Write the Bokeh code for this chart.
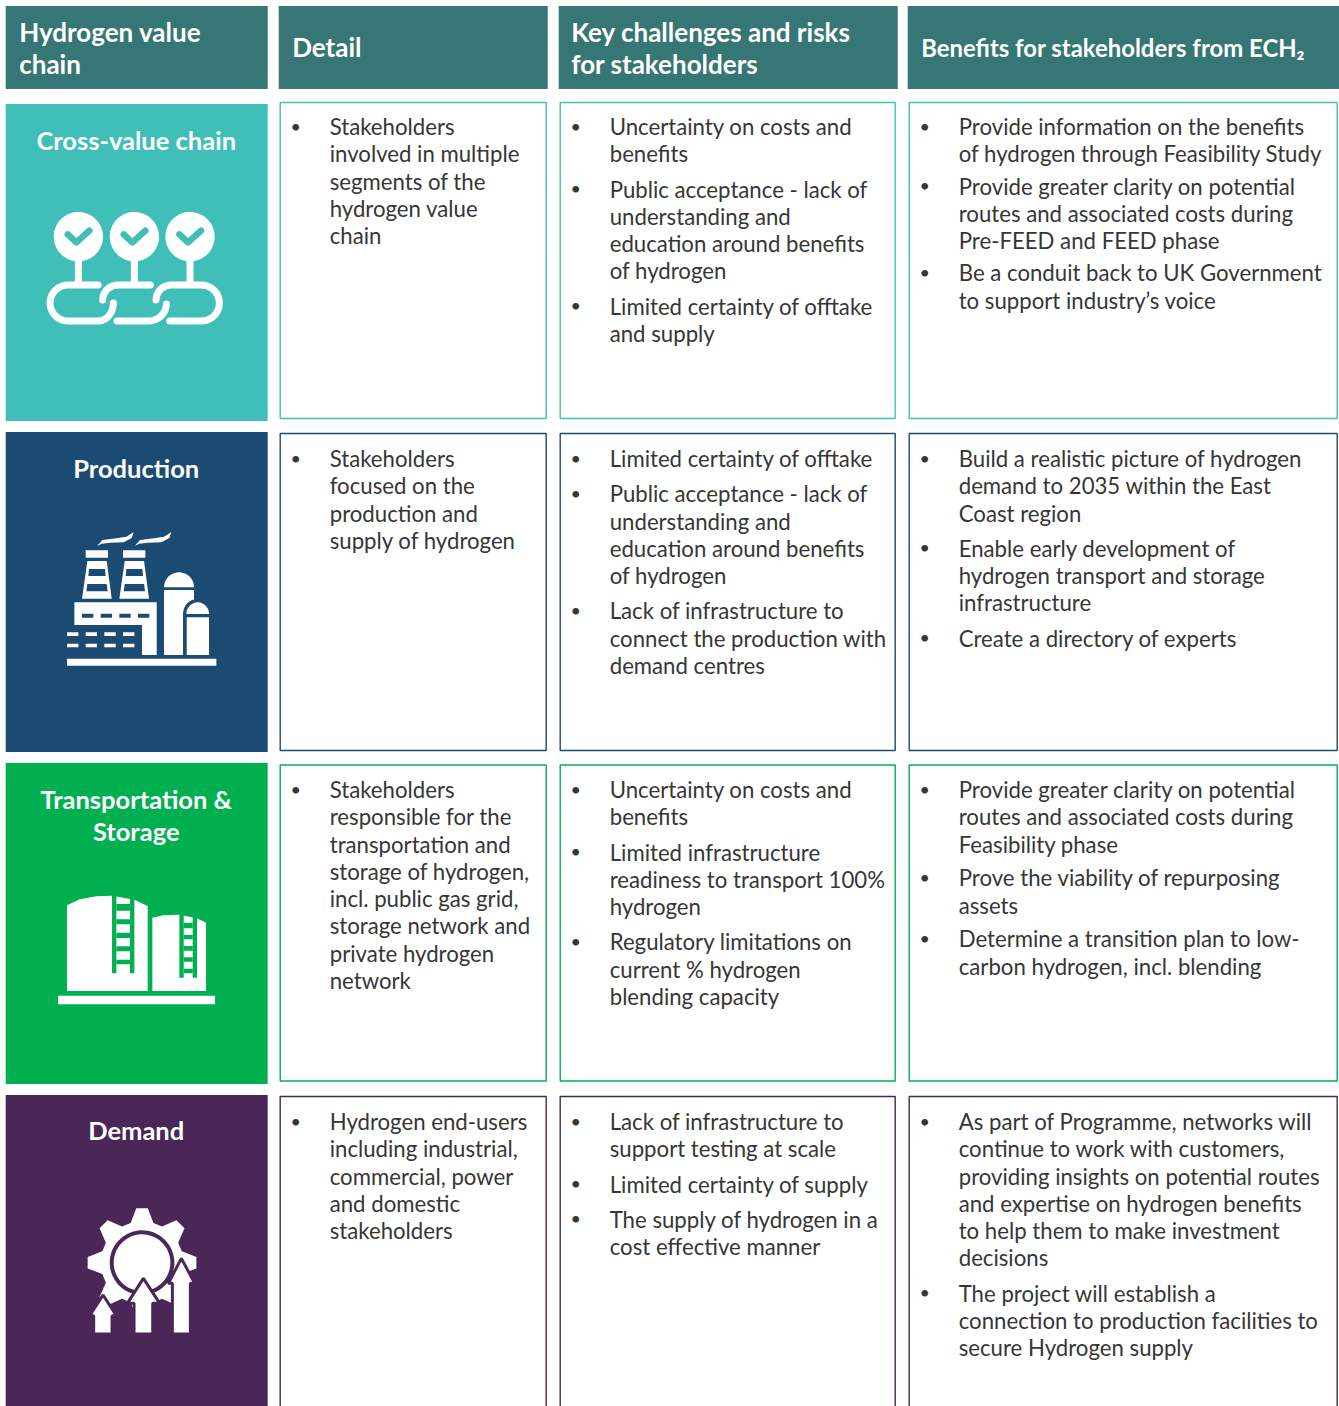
import numpy as np
from bokeh.plotting import figure
from bokeh.embed import file_html
from bokeh.resources import INLINE
from bokeh.core.properties import value
from bokeh.models import Range1d

# ---------- content ----------
headers = [["Hydrogen value", "chain"], ["Detail"], ["Key challenges and risks", "for stakeholders"],
           ["Benefits for stakeholders from ECH₂"]]
row_labels = [["Cross-value chain"], ["Production"], ["Transportation &", "Storage"], ["Demand"]]
row_colors = ["#40BFB8", "#1B4B73", "#00B050", "#4B2757"]
header_color = "#367675"
text_color = "#363636"

detail = [
    [["Stakeholders", "involved in multiple", "segments of the", "hydrogen value", "chain"]],
    [["Stakeholders", "focused on the", "production and", "supply of hydrogen"]],
    [["Stakeholders", "responsible for the", "transportation and", "storage of hydrogen,", "incl. public gas grid,",
      "storage network and", "private hydrogen", "network"]],
    [["Hydrogen end-users", "including industrial,", "commercial, power", "and domestic", "stakeholders"]],
]
challenges = [
    [["Uncertainty on costs and", "benefits"],
     ["Public acceptance - lack of", "understanding and", "education around benefits", "of hydrogen"],
     ["Limited certainty of offtake", "and supply"]],
    [["Limited certainty of offtake"],
     ["Public acceptance - lack of", "understanding and", "education around benefits", "of hydrogen"],
     ["Lack of infrastructure to", "connect the production with", "demand centres"]],
    [["Uncertainty on costs and", "benefits"],
     ["Limited infrastructure", "readiness to transport 100%", "hydrogen"],
     ["Regulatory limitations on", "current % hydrogen", "blending capacity"]],
    [["Lack of infrastructure to", "support testing at scale"],
     ["Limited certainty of supply"],
     ["The supply of hydrogen in a", "cost effective manner"]],
]
benefits = [
    [["Provide information on the benefits", "of hydrogen through Feasibility Study"],
     ["Provide greater clarity on potential", "routes and associated costs during", "Pre-FEED and FEED phase"],
     ["Be a conduit back to UK Government", "to support industry’s voice"]],
    [["Build a realistic picture of hydrogen", "demand to 2035 within the East", "Coast region"],
     ["Enable early development of", "hydrogen transport and storage", "infrastructure"],
     ["Create a directory of experts"]],
    [["Provide greater clarity on potential", "routes and associated costs during", "Feasibility phase"],
     ["Prove the viability of repurposing", "assets"],
     ["Determine a transition plan to low-", "carbon hydrogen, incl. blending"]],
    [["As part of Programme, networks will", "continue to work with customers,",
      "providing insights on potential routes", "and expertise on hydrogen benefits",
      "to help them to make investment", "decisions"],
     ["The project will establish a", "connection to production facilities to", "secure Hydrogen supply"]],
]

# ---------- layout ----------
W, H = 1339, 1406
BODY_FONT = value("Lato")
HEAD_FONT = value("Lato")
BODY_SIZE = "22.2px"
HEAD_SIZE = "26px"
LABEL_SIZE = "25.5px"
LINE = 27.25
TEXT_DY = -8

p = figure(width=W, height=H, x_range=Range1d(0.8, W + 0.8), y_range=Range1d(H + 0.5, 0.5),
           output_backend="svg", toolbar_location=None, min_border=0)
p.axis.visible = False
p.grid.visible = False
p.outline_line_color = None
p.background_fill_color = "white"
p.styles = {"position": "absolute", "left": "0px", "top": "0px"}


def txt(x, y, s, color, size, font=BODY_FONT, align="left", style="normal"):
    p.text([x], [y + TEXT_DY], text=[s], text_color=color, text_font=font, text_font_size=size,
           text_align=align, text_baseline="alphabetic", text_font_style=style)


head_x = [(6, 268), (279, 548), (559, 898), (908, 1339.8)]
head_tx = [19.5, 292.5, 571.5, 921.5]
head_sizes = [HEAD_SIZE, HEAD_SIZE, HEAD_SIZE, "23.9px"]
for (l, r), tx, lines, hs in zip(head_x, head_tx, headers, head_sizes):
    p.quad(left=[l], right=[r], top=[6], bottom=[89], fill_color=header_color, line_color=None)
    base = [39.5, 71.5] if len(lines) == 2 else [55]
    for b, s in zip(base, lines):
        txt(tx, b, s, "white", hs, HEAD_FONT, style="bold")

block_y = [(104, 421), (432, 752), (763, 1084), (1095, 1420)]
box_y = [(102.5, 418.5), (433.5, 750.5), (765, 1081), (1096.5, 1420)]
box_x = [(280.5, 546.5), (560.5, 895.5), (909.5, 1337.5)]
bullet_x = [296, 576, 925]
text_x = [330, 610, 959]
first_base = [134.5, 466.5, 797.5, 1129.5]
gaps = {(2, 0): 5, (2, 2): 6.5}
label_base = [[148], [475.5], [807, 839], [1137.5]]

for i in range(4):
    p.quad(left=[6], right=[268], top=[block_y[i][0]], bottom=[block_y[i][1]],
           fill_color=row_colors[i], line_color=None)
    for b, s in zip(label_base[i], row_labels[i]):
        txt(136.5, b, s, "white", LABEL_SIZE, HEAD_FONT, align="center", style="bold")
    for c, col in enumerate([detail, challenges, benefits]):
        p.quad(left=[box_x[c][0]], right=[box_x[c][1]], top=[box_y[i][0]], bottom=[box_y[i][1]],
               fill_color="white", line_color=row_colors[i], line_width=1.4)
        y = first_base[i]
        for para in col[i]:
            txt(bullet_x[c], y - 1, "•", text_color, "18px", align="center")
            for s in para:
                txt(text_x[c], y, s, text_color, BODY_SIZE)
                y += LINE
            y += gaps.get((c, i), 8)


# ---------- icons (shapes given in icon-local units, a third of a pixel) ----------
def tr(pts, ox, oy):
    a = np.array(pts, dtype=float)
    return list(a[:, 0] / 3 + ox), list(a[:, 1] / 3 + oy)


def poly(pts, ox, oy, color="white", **kw):
    xs, ys = tr(pts, ox, oy)
    p.patch(xs, ys, fill_color=color, line_color=kw.get("line_color", None), line_width=kw.get("line_width", 0))


def rect(l, t, r, b, ox, oy, color="white"):
    poly([(l, t), (r, t), (r, b), (l, b)], ox, oy, color)


def arc(cx, cy, rx, ry, a0, a1, n=24):
    t = np.radians(np.linspace(a0, a1, n))
    return [(cx + rx * np.cos(v), cy + ry * np.sin(v)) for v in t]


def stroke(pts, ox, oy, color, width):
    xs, ys = tr(pts, ox, oy)
    p.line(xs, ys, line_color=color, line_width=width, line_cap="round", line_join="round")


# icon 1: chain with three checks
ox, oy = 30, 200
for cx in (146, 314, 481):
    stroke([(cx, 110), (cx, 250)], ox, oy, "white", 7)
    poly(arc(cx, 110, 74, 74, 0, 360, 48), ox, oy)
    stroke([(cx - 32, 103), (cx - 6, 127), (cx + 33, 92)], ox, oy, row_colors[0], 6.5)
stroke([(205, 255), (115, 255)] + arc(115, 309, 54, 54, 270, 90) + [(205, 363)] + arc(205, 309, 46, 54, 90, 0, 12),
       ox, oy, "white", 7)
stroke(arc(265, 300, 46, 45, 180, 270, 10) + [(362, 255)], ox, oy, "white", 7)
stroke([(262, 363), (355, 363)] + arc(355, 312, 55, 51, 90, 0, 12), ox, oy, "white", 7)
stroke(arc(425, 300, 46, 45, 180, 270, 10) + [(515, 255)] + arc(515, 309, 54, 54, 270, 450) + [(420, 363)],
       ox, oy, "white", 7)

# icon 2: factory
ox, oy = 0, 510
bg = row_colors[1]
for dx in (0, 113):
    poly([(292 + dx, 108), (308 + dx, 90), (350 + dx, 85), (380 + dx, 80), (402 + dx, 66), (396 + dx, 84),
          (372 + dx, 97), (332 + dx, 98), (306 + dx, 101)], ox, oy)
for dx in (0, 112):
    rect(258 + dx, 121, 325 + dx, 143, ox, oy)
    poly([(263 + dx, 153), (321 + dx, 153), (336 + dx, 266), (247 + dx, 266)], ox, oy)
    poly([(268 + dx, 177), (316 + dx, 177), (318 + dx, 198), (266 + dx, 198)], ox, oy, bg)
    poly([(263 + dx, 222), (321 + dx, 222), (324 + dx, 244), (260 + dx, 244)], ox, oy, bg)
poly([(224, 277), (471, 277), (471, 435), (427, 435), (427, 345), (224, 345)], ox, oy)
for l in (247, 303, 359, 415):
    rect(l, 311, l + 34, 323, ox, oy, bg)
for l in (202, 258, 314, 370):
    rect(l, 367, l + 34, 378, ox, oy)
    rect(l, 401, l + 34, 412, ox, oy)
rect(202, 446, 650, 467, ox, oy)
poly(arc(538, 232, 45, 45, 180, 360), ox, oy)
poly([(493, 240), (583, 240), (583, 268)] + arc(590, 312, 40, 44, 260, 180, 10) + [(550, 435), (493, 435)], ox, oy)
poly(arc(594, 312, 34, 35, 180, 360), ox, oy)
rect(561, 322, 628, 435, ox, oy)

# icon 3: storage tanks
ox, oy = 30, 880
bg = row_colors[2]
poly([(112, 333), (112, 76), (150, 58), (200, 49), (247, 47), (314, 59), (354, 78), (354, 333)], ox, oy)
for l, r in ((247, 260), (301, 314)):
    rect(l, 45, r, 280, ox, oy, bg)
for t, b in ((72, 92), (118, 133), (158, 174), (199, 214), (239, 253)):
    rect(260, t, 301, b, ox, oy, bg)
poly([(368, 333), (368, 113), (400, 106), (449, 104), (502, 115), (529, 128), (529, 333)], ox, oy)
for l, r in ((449, 462), (489, 502)):
    rect(l, 103, r, 293, ox, oy, bg)
for t, b in ((128, 145), (165, 178), (198, 212), (232, 245), (266, 280)):
    rect(462, t, 489, b, ox, oy, bg)
rect(85, 347, 556, 373, ox, oy)

# icon 4: gear and rising arrows
ox, oy = 60, 1195
bg = row_colors[3]
gear = []
for k in range(8):
    a = -90 + k * 45
    for da, rad in ((-16, 124), (-6, 164), (6, 164), (16, 124)):
        t = np.radians(a + da)
        gear.append((247 + rad * np.cos(t), 203 + rad * np.sin(t)))
poly(gear, ox, oy)
poly(arc(247, 203, 97, 97, 0, 360, 64), ox, oy, bg)
poly(arc(247, 203, 85, 85, 0, 360, 64), ox, oy)
for arrow in ([(365, 190), (405, 265), (392, 265), (392, 417), (338, 417), (338, 265), (326, 265)],
              [(251, 250), (300, 325), (279, 325), (279, 417), (223, 417), (223, 325), (203, 325)],
              [(130, 300), (170, 362), (157, 362), (157, 417), (102, 417), (102, 362), (90, 362)]):
    poly(arrow, ox, oy, "white", line_color=bg, line_width=3)

open("out.html", "w").write(file_html(p, INLINE))
